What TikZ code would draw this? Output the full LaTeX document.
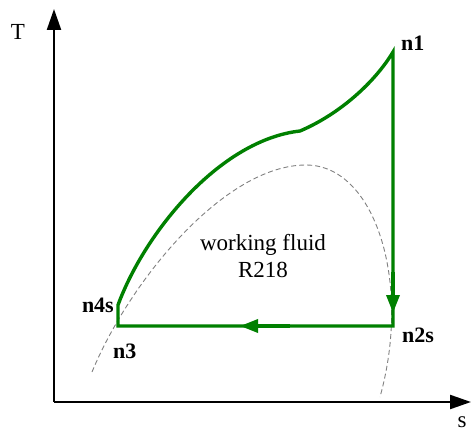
\documentclass[tikz,border=0pt]{standalone}
\usepackage{fontspec}
\setmainfont{Liberation Serif}
\usetikzlibrary{arrows.meta}
\definecolor{cyclegreen}{RGB}{0,128,0}
\tikzset{
    cycle_line/.style = {
        draw=cyclegreen,
        line width=3.4pt,
        line join=miter
    },
    flow_tip/.style = {
        draw=cyclegreen,
        line width=3.4pt,
        -{Triangle[length=18pt,width=13pt]}
    },
    dome_line/.style = {
        draw=gray,
        line width=0.9pt,
        dash pattern=on 5pt off 3pt
    },
    axis_line/.style = {
        draw=black,
        line width=2.3pt,
        -{Triangle[length=21pt,width=14pt]}
    },
    state_label/.style = {
        font=\bfseries\fontsize{22}{24}\selectfont,
        inner sep=0pt
    },
    plain_label/.style = {
        font=\fontsize{23}{27}\selectfont,
        inner sep=0pt,
        align=center
    },
}

\begin{document}
\begin{tikzpicture}[x=1pt,y=1pt]
    \useasboundingbox (0,0) rectangle (472,432);

    % axes
    \coordinate (origin) at (54,30);
    \coordinate (t_end) at (54,423);
    \coordinate (s_end) at (471,30);
    \draw[axis_line] (origin) -- (t_end);
    \draw[axis_line] (origin) -- (s_end);
    \node[plain_label] (t_label) at (18,400) {T};
    \node[plain_label] (s_label) at (462,10) {s};

    % saturation dome
    \coordinate (dome_left) at (92,60);
    \coordinate (dome_top) at (306,267);
    \coordinate (dome_right) at (380,35);
    \draw[dome_line] (dome_left)
        .. controls (130,152) and (225,267) .. (dome_top)
        .. controls (375,267) and (412,150) .. (dome_right);

    % cycle states
    \coordinate (n1) at (393,380);
    \coordinate (n2s) at (393,106);
    \coordinate (n3) at (118,106);
    \coordinate (n4s) at (118,127);
    \coordinate (kink) at (300,301);

    \path[cycle_line] (n3) -- (n4s)
        .. controls (145,200) and (220,292) .. (kink)
        .. controls (340,318) and (375,350) .. (n1)
        -- (n2s) -- cycle;

    % flow direction
    \coordinate (v_tip) at (393,119);
    \coordinate (h_tip) at (240,106);
    \draw[flow_tip] (393,160) -- (v_tip);
    \draw[flow_tip] (290,106) -- (h_tip);

    \node[state_label, anchor=west] (n1_label) at ([xshift=8pt,yshift=9pt]n1) {n1};
    \node[state_label, anchor=west] (n2s_label) at ([xshift=9pt,yshift=-9pt]n2s) {n2s};
    \node[state_label, anchor=north west] (n3_label) at ([xshift=-5pt,yshift=-18pt]n3) {n3};
    \node[state_label, anchor=east] (n4s_label) at ([xshift=-4pt]n4s) {n4s};

    \node[plain_label] (fluid_label) at (263,176) {working fluid\\R218};
\end{tikzpicture}
\end{document}
